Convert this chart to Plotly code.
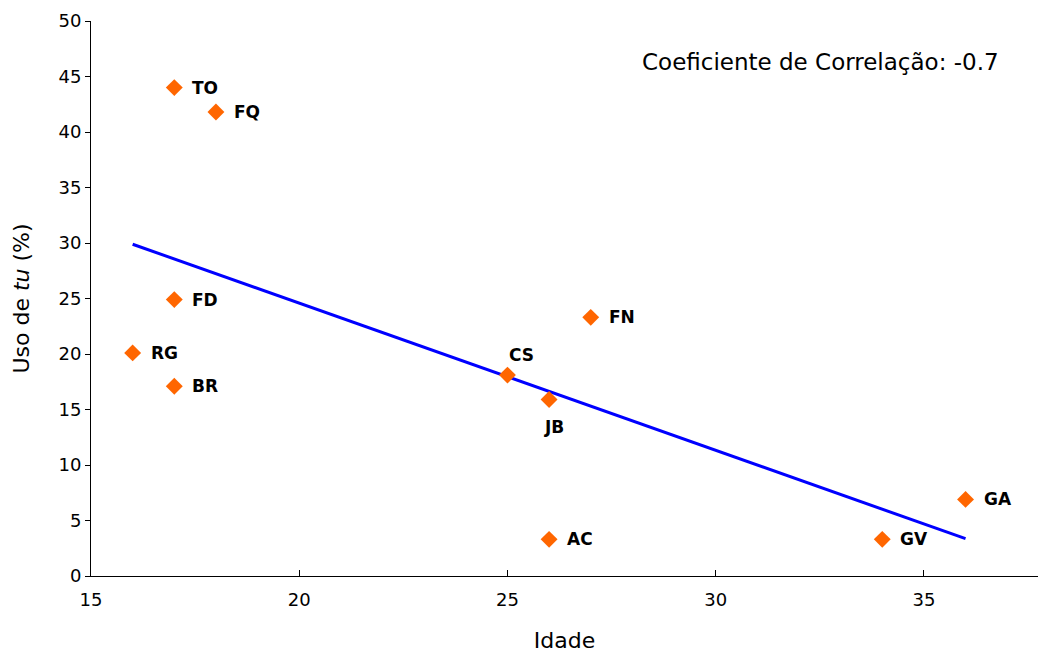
import numpy as np
import plotly.graph_objects as go

names = ["TO", "FQ", "FD", "RG", "BR", "CS", "JB", "FN", "AC", "GA", "GV"]
idade = [17, 18, 17, 16, 17, 25, 26, 27, 26, 36, 34]
uso_tu = [44.0, 41.8, 24.9, 20.1, 17.1, 18.1, 15.9, 23.3, 3.3, 6.9, 3.3]
# label offsets in pixels (xshift, yshift)
label_dx = [16, 16, 16, 16, 16, 0, -7, 16, 16, 16, 16]
label_dy = [0, 0, 0, 0, 0, 20, -27, 0, 0, 0, 0]

xs = np.array(idade, dtype=float)
ys = np.array(uso_tu, dtype=float)
slope, intercept = np.polyfit(xs, ys, 1)
r = np.corrcoef(xs, ys)[0, 1]
xl = np.array([xs.min(), xs.max()])
yl = slope * xl + intercept

FONT = "Verdana, DejaVu Sans, sans-serif"

fig = go.Figure()
fig.add_trace(go.Scatter(x=xl, y=yl, mode="lines",
                         line=dict(color="#0000FF", width=3),
                         hoverinfo="skip", showlegend=False))
fig.add_trace(go.Scatter(x=idade, y=uso_tu, mode="markers",
                         marker=dict(symbol="diamond", size=13, color="#FF6600"),
                         text=names, showlegend=False))

for n, x, y, dx, dy in zip(names, idade, uso_tu, label_dx, label_dy):
    fig.add_annotation(x=x, y=y, text=f"<b>{n}</b>", showarrow=False,
                       xanchor="left", yanchor="middle", xshift=dx, yshift=dy,
                       font=dict(family=FONT, size=17, color="black"))

fig.add_annotation(xref="paper", yref="paper", x=(1001 - 91) / 947, y=(576 - 62) / 555,
                   text=f"Coeficiente de Correlação: {r:.1f}", showarrow=False,
                   xanchor="right", yanchor="middle",
                   font=dict(family=FONT, size=23, color="black"))

fig.update_layout(
    width=1038, height=653,
    margin=dict(l=91, r=0, t=21, b=77),
    paper_bgcolor="white", plot_bgcolor="white",
    font=dict(family=FONT, size=18, color="black"),
    xaxis=dict(range=[15, 37.74], tickvals=[15, 20, 25, 30, 35],
               showgrid=False, zeroline=False, showline=True, linecolor="black",
               linewidth=1, ticks="inside", ticklen=6, tickcolor="black",
               ticklabelstandoff=7,
               title=dict(text="Idade", font=dict(size=22), standoff=26),
               tickfont=dict(size=18)),
    yaxis=dict(range=[0, 50], dtick=5, showgrid=False, zeroline=False,
               showline=True, linecolor="black", linewidth=1,
               ticks="outside", ticklen=5, tickcolor="black",
               title=dict(text="Uso de <i>tu</i> (%)", font=dict(size=22), standoff=22),
               tickfont=dict(size=18)),
)

fig.write_html("out.html", config={"displayModeBar": False},
               post_script="document.body.style.margin='0';")
